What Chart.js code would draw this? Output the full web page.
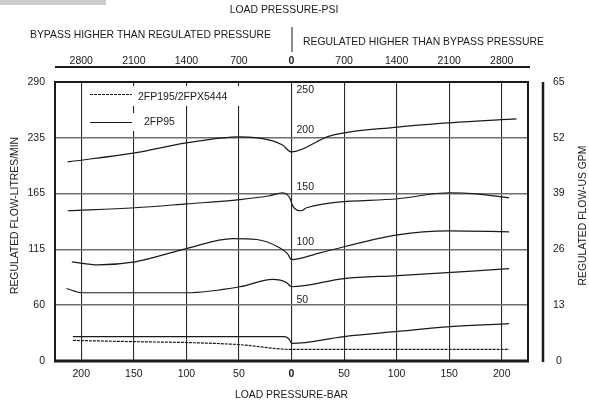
<!DOCTYPE html>
<html>
<head>
<meta charset="utf-8">
<script src="https://cdn.jsdelivr.net/npm/chart.js@4/dist/chart.umd.min.js"></script>
<style>
  html, body { margin: 0; padding: 0; background: #fff; }
  #wrap { width: 589px; height: 403px; position: relative; }
</style>
</head>
<body>
<div id="wrap"><canvas id="c" role="img" aria-label="Regulated flow vs load pressure"></canvas></div>
<script>
// axis ticks (bar on x, US GPM on y)
const xTicks = [-200, -150, -100, -50, 0, 50, 100, 150, 200];
const barLabels = ['200', '150', '100', '50', '0', '50', '100', '150', '200'];
const psiLabels = ['2800', '2100', '1400', '700', '0', '700', '1400', '2100', '2800'];
const gpmTicks = [0, 13, 26, 39, 52, 65];
const litreLabels = ['0', '60', '115', '165', '235', '290'];

// labels written next to the zero line
const insideLabels = ['250', '200', '150', '100', '50'];
const insideLabelY = [63.1, 53.8, 40.6, 27.8, 14.3];

// curves, [bar, gpm]
const curve200 = [[-213, 46.4], [-149, 48.5], [-100, 50.8], [-49, 52.2], [-18, 51.3], [-8.6, 50.3], [0, 48.7], [36, 52.4], [101, 54.5], [151, 55.5], [214, 56.4]];
const curve150 = [[-213, 35.0], [-149, 35.7], [-100, 36.6], [-49, 37.6], [-21, 38.5], [-8.6, 39.2], [-3.8, 38.7], [-1, 37.6], [1, 36.2], [9.5, 35.0], [14.3, 35.7], [101, 37.8], [150, 39.2], [176, 38.95], [207, 38.0]];
const curve100 = [[-209, 23.1], [-184, 22.4], [-149, 23.1], [-100, 26.2], [-56, 28.5], [-33, 28.3], [-11.4, 26.4], [-3.8, 25.0], [0, 23.6], [27, 25.2], [101, 29.4], [150, 30.3], [207, 30.1]];
const curve50 = [[-214, 16.9], [-199, 15.9], [-149, 15.9], [-100, 15.9], [-49, 17.3], [-18, 19.0], [-4.8, 18.3], [0, 17.3], [50, 19.2], [101, 19.9], [207, 21.5]];
const curveLow = [[-208, 5.7], [-6.7, 5.7], [-1.9, 5.0], [0, 4.1], [50, 5.7], [101, 6.9], [151, 8.0], [207, 8.7]];
const curveLowDash = [[-208, 4.8], [-149, 4.5], [-100, 4.3], [-49, 3.8], [0, 2.7], [207, 2.7]];

const FONT = "'Liberation Sans', Arial, sans-serif";
const INK = '#1a1a1a';

const toPts = (arr) => arr.map(([x, y]) => ({ x, y }));
const solid = (data) => ({
  data: toPts(data),
  borderColor: INK,
  borderWidth: 1.2,
  pointRadius: 0,
  cubicInterpolationMode: 'monotone',
  fill: false,
});

const setTicks = (scale) => {
  scale.ticks = xTicks.map((v) => ({ value: v }));
};
const setGpmTicks = (scale) => {
  scale.ticks = gpmTicks.map((v) => ({ value: v }));
};
const boldZero = (ctx) => ({
  family: FONT,
  size: 10.5,
  weight: ctx.tick && ctx.tick.value === 0 ? 'bold' : 'normal',
});

const decor = {
  id: 'decor',
  beforeDatasetsDraw(chart) {
    const { ctx, chartArea: a } = chart;
    ctx.save();
    // legend (white box hides the grid behind it)
    ctx.fillStyle = '#fff';
    ctx.fillRect(86, a.top + 4, 164, 20);
    ctx.fillRect(86, a.top + 31, 100, 18);
    ctx.strokeStyle = INK;
    ctx.lineWidth = 1;
    ctx.setLineDash([3, 1]);
    ctx.beginPath();
    ctx.moveTo(90, a.top + 12.5);
    ctx.lineTo(132, a.top + 12.5);
    ctx.stroke();
    ctx.setLineDash([]);
    ctx.beginPath();
    ctx.moveTo(90, a.top + 40.5);
    ctx.lineTo(132, a.top + 40.5);
    ctx.stroke();
    ctx.fillStyle = INK;
    ctx.font = `10.5px ${FONT}`;
    ctx.textBaseline = 'middle';
    ctx.textAlign = 'left';
    ctx.fillText('2FP195/2FPX5444', 138, a.top + 15);
    ctx.fillText('2FP95', 144, a.top + 40);
    // labels by the zero line
    const x0 = chart.scales.x.getPixelForValue(0);
    insideLabels.forEach((t, i) => {
      ctx.fillText(t, x0 + 5, chart.scales.y.getPixelForValue(insideLabelY[i]));
    });
    ctx.restore();
  },
  afterDraw(chart) {
    const { ctx, chartArea: a } = chart;
    const x0 = chart.scales.x.getPixelForValue(0);
    const midY = (a.top + a.bottom) / 2 - 6;
    ctx.save();
    ctx.fillStyle = '#cccccc';
    ctx.fillRect(0, 0, 106, 5);

    ctx.fillStyle = INK;
    ctx.textBaseline = 'middle';
    ctx.font = `10.4px ${FONT}`;
    ctx.textAlign = 'center';
    ctx.fillText('LOAD PRESSURE-PSI', 284, 10);
    ctx.fillText('LOAD PRESSURE-BAR', x0, 395);
    ctx.textAlign = 'left';
    ctx.fillText('BYPASS HIGHER THAN REGULATED PRESSURE', 30, 35);
    ctx.fillText('REGULATED HIGHER THAN BYPASS PRESSURE', 303, 42);

    ctx.strokeStyle = INK;
    ctx.lineWidth = 1;
    ctx.beginPath();
    ctx.moveTo(x0 + 0.5, 27);
    ctx.lineTo(x0 + 0.5, 52);
    ctx.stroke();

    // psi axis line
    ctx.lineWidth = 2;
    ctx.beginPath();
    ctx.moveTo(a.left, a.top - 15);
    ctx.lineTo(a.right + 2, a.top - 15);
    ctx.stroke();

    // gpm axis line
    ctx.lineWidth = 2.5;
    ctx.beginPath();
    ctx.moveTo(a.right + 15, a.top);
    ctx.lineTo(a.right + 15, a.bottom + 1);
    ctx.stroke();

    // plot frame
    ctx.lineWidth = 2;
    ctx.strokeRect(a.left, a.top, a.right - a.left, a.bottom - a.top);
    ctx.lineWidth = 3;
    ctx.beginPath();
    ctx.moveTo(a.left - 1, a.bottom);
    ctx.lineTo(a.right + 1, a.bottom);
    ctx.stroke();

    // side titles, both read bottom-to-top
    ctx.textAlign = 'center';
    ctx.save();
    ctx.translate(15, midY);
    ctx.rotate(-Math.PI / 2);
    ctx.fillText('REGULATED FLOW-LITRES/MIN', 0, 0);
    ctx.restore();
    ctx.translate(583, midY);
    ctx.rotate(-Math.PI / 2);
    ctx.fillText('REGULATED FLOW-US GPM', 0, 0);
    ctx.restore();
  },
};

new Chart(document.getElementById('c'), {
  type: 'line',
  data: {
    datasets: [
      solid(curve200),
      solid(curve150),
      solid(curve100),
      solid(curve50),
      solid(curveLow),
      { ...solid(curveLowDash), borderDash: [3, 1] },
    ],
  },
  options: {
    responsive: true,
    maintainAspectRatio: false,
    animation: false,
    layout: { padding: 0 },
    plugins: { legend: { display: false }, tooltip: { enabled: false } },
    scales: {
      x: {
        type: 'linear',
        position: 'bottom',
        min: -225,
        max: 225,
        afterBuildTicks: setTicks,
        afterFit: (s) => { s.height = 42; },
        grid: { color: '#2a2a2a', lineWidth: 1.1, drawTicks: false },
        border: { display: false },
        ticks: {
          color: INK,
          padding: 7,
          font: boldZero,
          callback: (v) => barLabels[xTicks.indexOf(v)],
        },
      },
      x2: {
        type: 'linear',
        position: 'top',
        min: -225,
        max: 225,
        afterBuildTicks: setTicks,
        afterFit: (s) => { s.height = 82; },
        grid: { display: false, drawTicks: false },
        border: { display: false },
        ticks: {
          color: INK,
          padding: 15,
          font: boldZero,
          callback: (v) => psiLabels[xTicks.indexOf(v)],
        },
      },
      y: {
        position: 'left',
        min: 0,
        max: 65,
        afterBuildTicks: setGpmTicks,
        afterFit: (s) => { s.width = 55; },
        grid: { color: '#6e6e6e', lineWidth: 1.6, drawTicks: false },
        border: { display: false },
        ticks: {
          color: INK,
          padding: 10,
          font: { family: FONT, size: 10.5 },
          callback: (v) => litreLabels[gpmTicks.indexOf(v)],
        },
      },
      y2: {
        position: 'right',
        min: 0,
        max: 65,
        afterBuildTicks: setGpmTicks,
        afterFit: (s) => { s.width = 61; },
        grid: { display: false, drawTicks: false },
        border: { display: false },
        ticks: {
          color: INK,
          padding: 25,
          crossAlign: 'center',
          font: { family: FONT, size: 10.5 },
        },
      },
    },
  },
  plugins: [decor],
});
</script>
</body>
</html>
